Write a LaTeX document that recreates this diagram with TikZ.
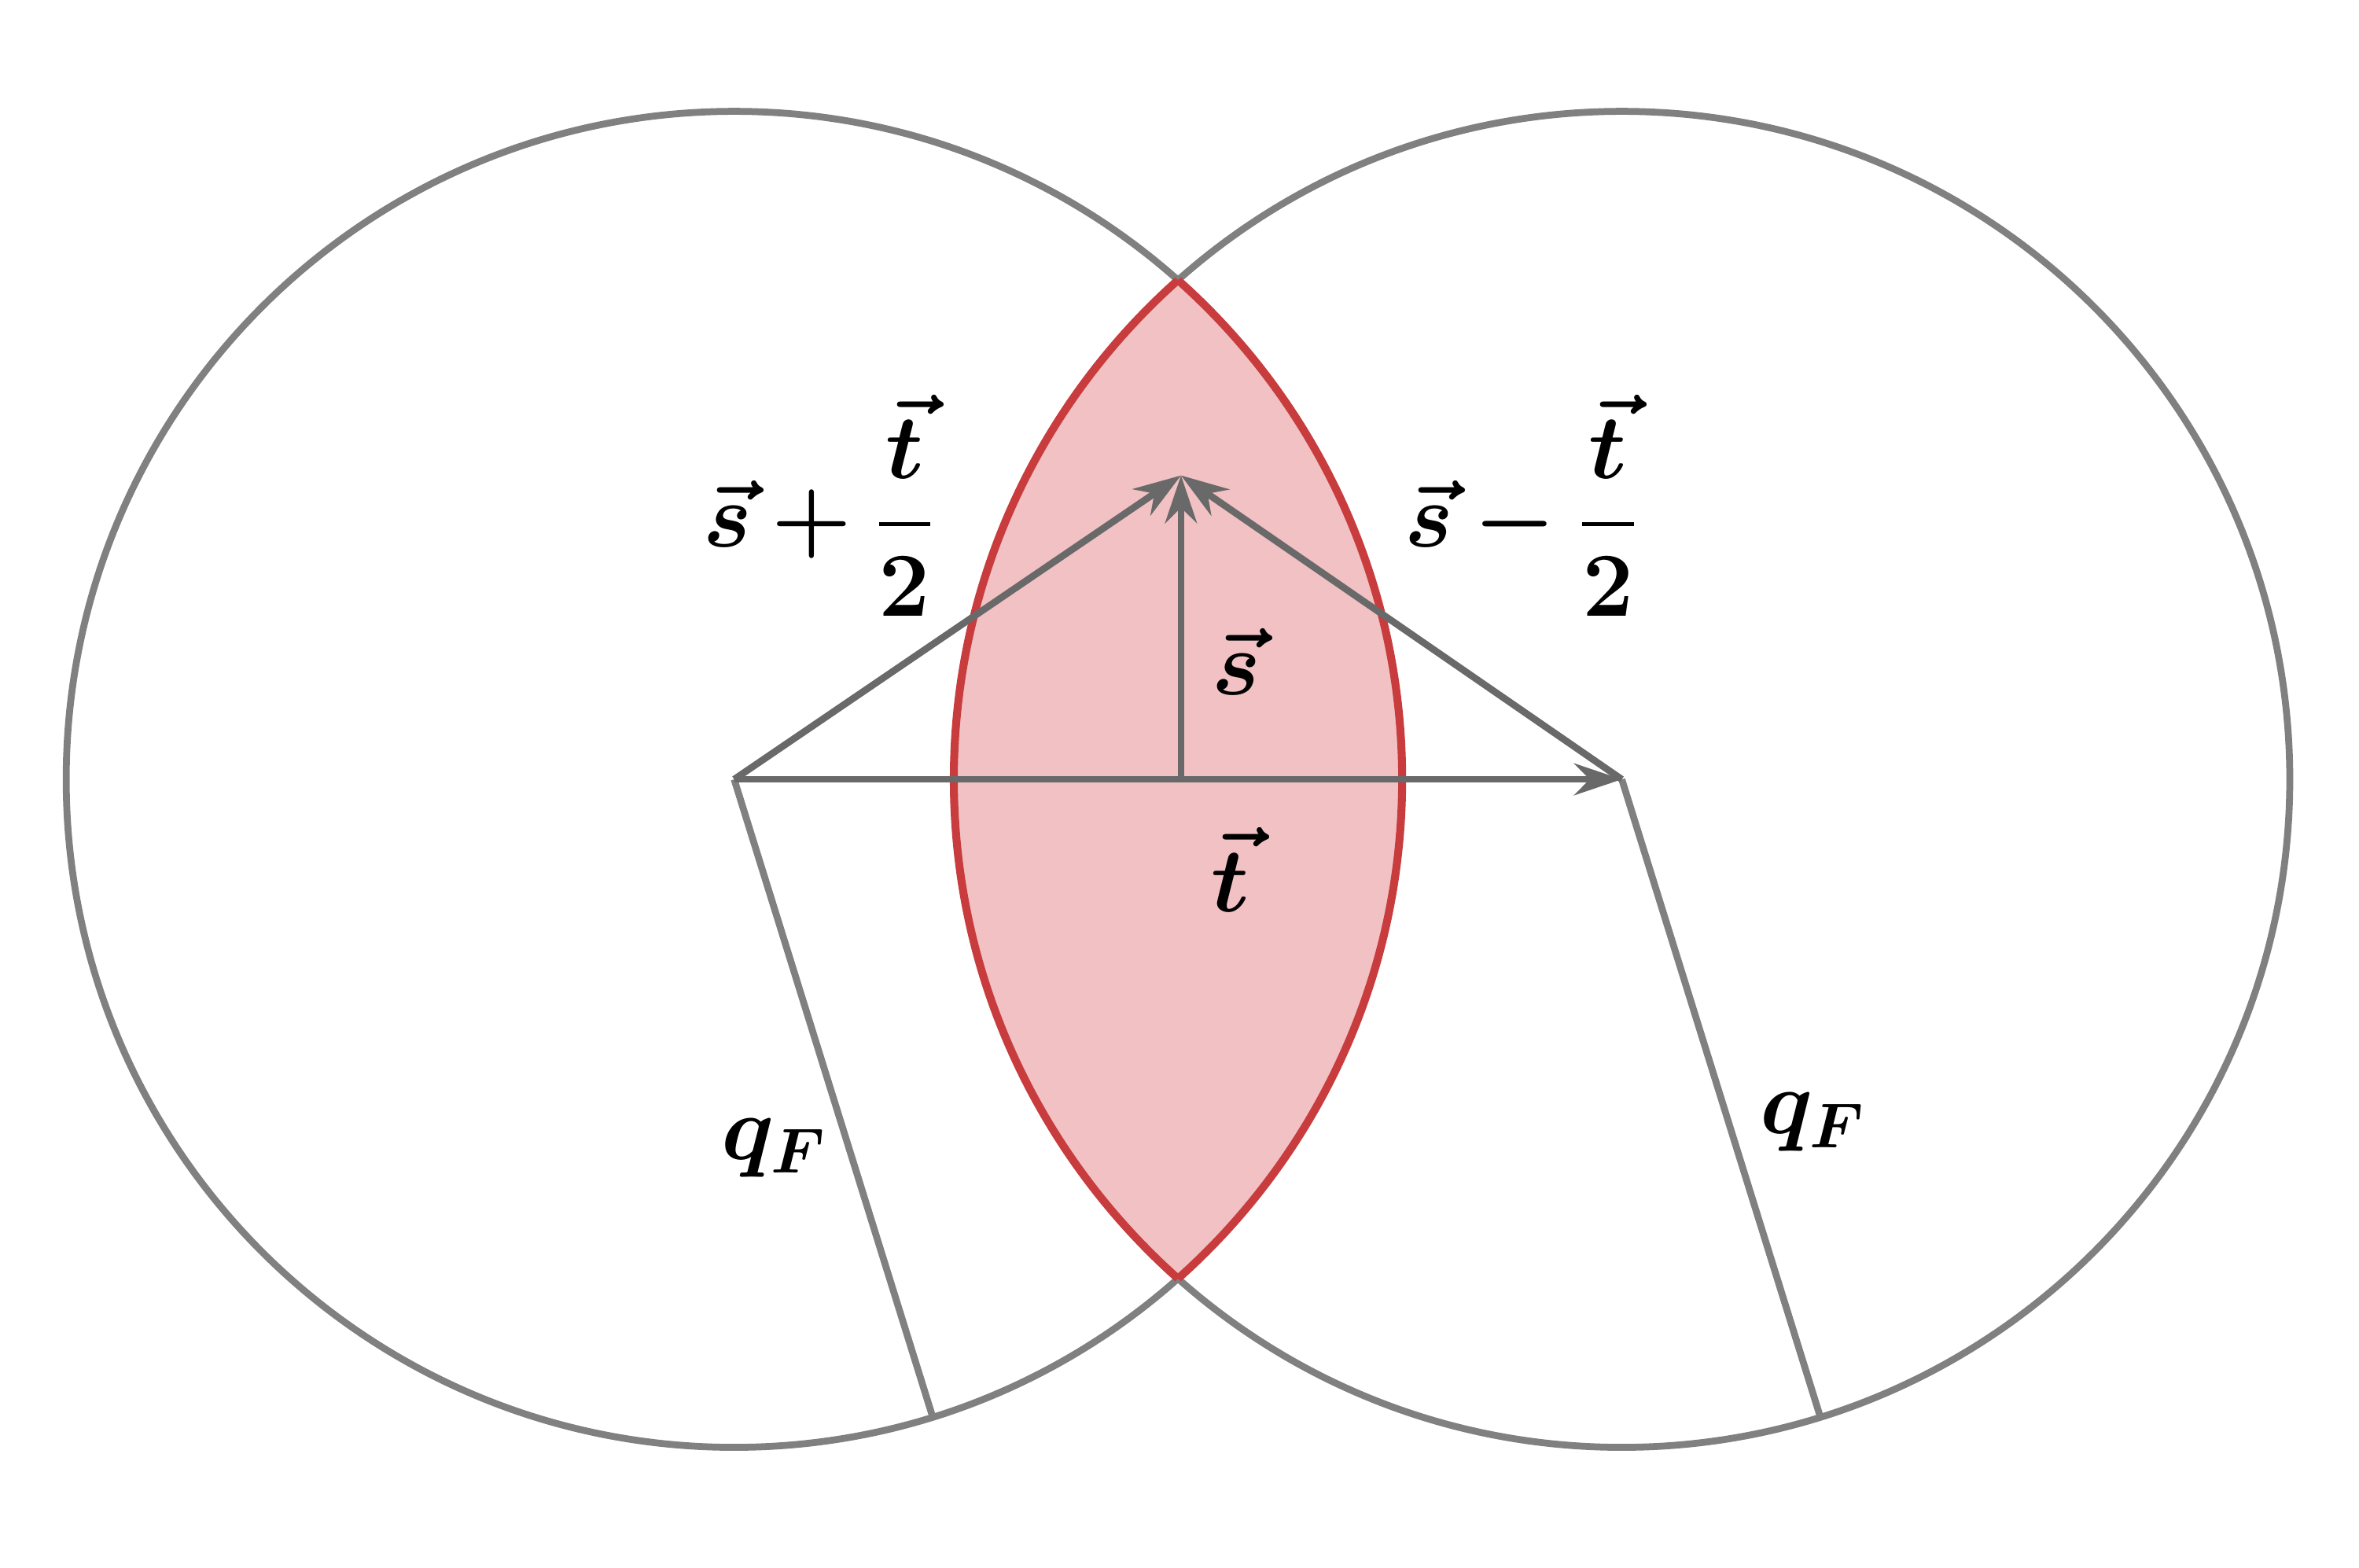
\documentclass[tikz,border=0pt]{standalone}
\usepackage{amsmath,bm}
\usetikzlibrary{arrows.meta}
\definecolor{cg}{RGB}{128,128,128}
\definecolor{vg}{RGB}{105,105,105}
\definecolor{lr}{RGB}{200,60,62}
\definecolor{lf}{RGB}{241,193,195}
\tikzset{circ/.style={draw=cg,line width=1.3pt},
 vec/.style={draw=vg,line width=1.3pt,-{Stealth[length=9pt,width=6pt]}},
 rad/.style={draw=cg,line width=1.3pt},
 lab/.style={font=\fontsize{18}{22}\selectfont}}
\begin{document}
\begin{tikzpicture}[x=0.01cm,y=-0.01cm]
\useasboundingbox (0,0) rectangle (1568,1042);
\coordinate (L) at (488,518);
\coordinate (R) at (1078,518);
\coordinate (A) at (785,316);
\coordinate (M) at (785,518);
\coordinate (PL) at (620,942);
\coordinate (PR) at (1210,942);
\begin{scope}\clip (L) circle (444);\fill[lf] (R) circle (444);\end{scope}
\draw[circ] (L) circle (444);
\draw[circ] (R) circle (444);
\begin{scope}\clip (L) circle (444);\draw[lr,line width=1.5pt] (R) circle (444);\end{scope}
\begin{scope}\clip (R) circle (444);\draw[lr,line width=1.5pt] (L) circle (444);\end{scope}
\draw[rad] (L) -- (PL);
\draw[rad] (R) -- (PR);
\draw[vec] (L) -- (A);
\draw[vec] (R) -- (A);
\draw[vec] (M) -- (A);
\draw[vec] (L) -- (R);
\node[lab] (l1) at (545,336) {$\bm{\vec s+\dfrac{\vec t}{2}}$};
\node[lab] (l2) at (1012,336) {$\bm{\vec s-\dfrac{\vec t}{2}}$};
\node[lab] (l3) at (822,440) {$\bm{\vec s}$};
\node[lab] (l4) at (818,578) {$\bm{\vec t}$};
\node[lab] (l5) at (515,763) {$\bm{q_F}$};
\node[lab] (l6) at (1205,746) {$\bm{q_F}$};
\end{tikzpicture}
\end{document}
